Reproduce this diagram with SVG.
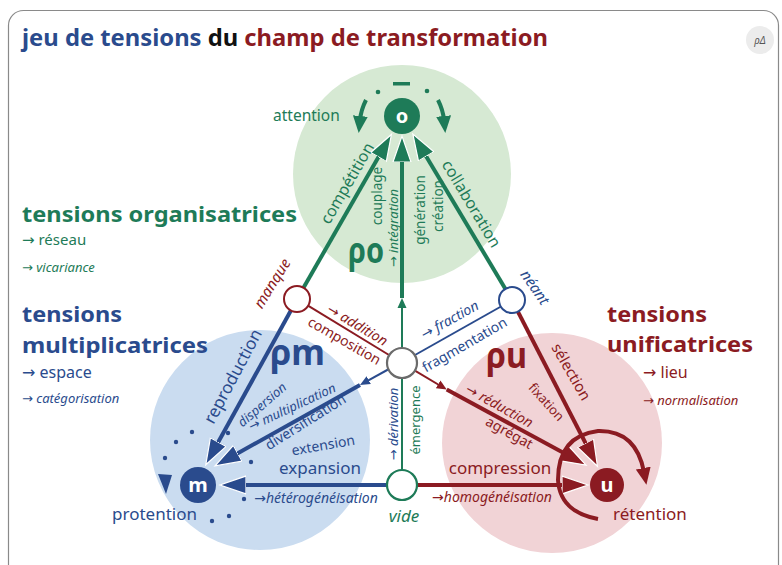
<svg xmlns="http://www.w3.org/2000/svg" width="782" height="565" viewBox="0 0 782 565">
<style>
text{font-family:"Noto Sans","Open Sans","DejaVu Sans",sans-serif}
.g{fill:#1e7b58}.n{fill:#2a4b8d}.r{fill:#8b1b22}
.i{font-style:italic}.b{font-weight:bold}
.sg{stroke:#1e7b58}.sn{stroke:#2a4b8d}.sr{stroke:#8b1b22}
.thick{stroke-width:4;fill:none}.thin{stroke-width:2;fill:none}
.hole{fill:#fff;stroke-width:2}
.node{font-size:20px;font-weight:bold;fill:#fff;text-anchor:middle}
</style>
<defs>
<marker id="bg" markerUnits="userSpaceOnUse" viewBox="0 0 28 20" markerWidth="28" markerHeight="20" refX="6" refY="10" orient="auto"><path d="M0,1 L26,10 L0,19 Z" fill="#1e7b58" stroke="#fff" stroke-width="1.2"/></marker>
<marker id="bn" markerUnits="userSpaceOnUse" viewBox="0 0 28 20" markerWidth="28" markerHeight="20" refX="6" refY="10" orient="auto"><path d="M0,1 L26,10 L0,19 Z" fill="#2a4b8d" stroke="#fff" stroke-width="1.2"/></marker>
<marker id="br" markerUnits="userSpaceOnUse" viewBox="0 0 28 20" markerWidth="28" markerHeight="20" refX="6" refY="10" orient="auto"><path d="M0,1 L26,10 L0,19 Z" fill="#8b1b22" stroke="#fff" stroke-width="1.2"/></marker>
<marker id="sg" markerUnits="userSpaceOnUse" viewBox="0 0 10 10" markerWidth="10" markerHeight="10" refX="3" refY="5" orient="auto"><path d="M0,0.5 L10,5 L0,9.5 Z" fill="#1e7b58"/></marker>
<marker id="sn" markerUnits="userSpaceOnUse" viewBox="0 0 10 10" markerWidth="10" markerHeight="10" refX="3" refY="5" orient="auto"><path d="M0,0.5 L10,5 L0,9.5 Z" fill="#2a4b8d"/></marker>
<marker id="sr" markerUnits="userSpaceOnUse" viewBox="0 0 10 10" markerWidth="10" markerHeight="10" refX="3" refY="5" orient="auto"><path d="M0,0.5 L10,5 L0,9.5 Z" fill="#8b1b22"/></marker>
<marker id="mg" markerUnits="userSpaceOnUse" viewBox="0 0 17 15" markerWidth="17" markerHeight="15" refX="4" refY="7.5" orient="auto"><path d="M0,0 L17,7.5 L0,15 Z" fill="#1e7b58"/></marker>
<marker id="mr" markerUnits="userSpaceOnUse" viewBox="0 0 17 15" markerWidth="17" markerHeight="15" refX="4" refY="7.5" orient="auto"><path d="M0,0 L17,7.5 L0,15 Z" fill="#8b1b22"/></marker>
</defs>

<rect x="8.5" y="10.5" width="770" height="600" rx="15" fill="#fff" stroke="#8a8a8a" stroke-width="1.2"/>

<g id="title">
<text x="22" y="46" font-size="24" font-weight="bold" textLength="526" lengthAdjust="spacingAndGlyphs"><tspan class="n">jeu de tensions </tspan><tspan fill="#111">du </tspan><tspan class="r">champ de transformation</tspan></text>
<circle cx="760" cy="40" r="14" fill="#ececec"/>
<text x="760" y="44" font-size="10" font-style="italic" fill="#555" text-anchor="middle">ρΔ</text>
</g>

<g id="zones">
<circle cx="402" cy="174" r="109" fill="#d6e9d3"/>
<circle cx="260" cy="440" r="110" fill="#cadcf0"/>
<circle cx="552" cy="443" r="110" fill="#f1d3d6"/>
</g>

<g id="legend">
<text x="22" y="222" font-size="21.5" class="g b" textLength="275" lengthAdjust="spacingAndGlyphs">tensions organisatrices</text>
<text x="22" y="245" font-size="15" class="g">→ réseau</text>
<text x="22" y="272" font-size="13" class="g i">→ vicariance</text>
<text x="22" y="322" font-size="21.5" class="n b" textLength="100" lengthAdjust="spacingAndGlyphs">tensions</text>
<text x="22" y="353" font-size="21.5" class="n b" textLength="186" lengthAdjust="spacingAndGlyphs">multiplicatrices</text>
<text x="22" y="378" font-size="16" class="n">→ espace</text>
<text x="22" y="403" font-size="13" class="n i">→ catégorisation</text>
<text x="607" y="322" font-size="21.5" class="r b" textLength="100" lengthAdjust="spacingAndGlyphs">tensions</text>
<text x="607" y="352" font-size="21.5" class="r b" textLength="146" lengthAdjust="spacingAndGlyphs">unificatrices</text>
<text x="643" y="378" font-size="16" class="r">→ lieu</text>
<text x="643" y="405" font-size="13" class="r i">→ normalisation</text>
</g>

<g id="connectors">
<path class="thick sg" d="M303.5,287.7 L381.5,151.8" marker-end="url(#bg)"/>
<path class="thick sg" d="M505.3,288.8 L423.1,151.2" marker-end="url(#bg)"/>
<path class="thin sg" d="M402,348 L402,305" marker-end="url(#sg)"/>
<path class="thick sg" d="M402,298 L402,156" marker-end="url(#bg)"/>
<path class="thin sg" d="M402,470 L402,378"/>
<path class="thick sn" d="M290.9,310.5 L215.4,447.3" marker-end="url(#bn)"/>
<path class="thin sn" d="M389,369 L366.1,381.6" marker-end="url(#sn)"/>
<path class="thick sn" d="M360,385 L232.5,456.2" marker-end="url(#bn)"/>
<path class="thick sn" d="M387,485 L240,485" marker-end="url(#bn)"/>
<path class="thick sr" d="M517.9,311.6 L588.3,448.5" marker-end="url(#br)"/>
<path class="thin sr" d="M414.9,370.7 L440.7,386" marker-end="url(#sr)"/>
<path class="thick sr" d="M446.7,389.6 L568.4,455.5" marker-end="url(#br)"/>
<path class="thick sr" d="M417,485 L568,485" marker-end="url(#br)"/>
<path class="thin sr" d="M308,305.7 L389,355"/>
<path class="thin sn" d="M501,306.5 L415,355"/>
<path class="thick sr" d="M598,519 Q560,512 558,480 Q558,436 598,431 Q636,430 644,472" marker-end="url(#mr)"/>
<path class="thick sg" d="M366,100 Q361,110 360,120" marker-end="url(#mg)"/>
<path class="thick sg" d="M438,100 Q443,110 444,120" marker-end="url(#mg)"/>
</g>

<g id="cycle-marks">
<circle cx="378" cy="92" r="2.3" class="g"/>
<circle cx="427" cy="91" r="2.3" class="g"/>
<rect x="393" y="82" width="17" height="3.5" class="g"/>
<g class="n">
<circle cx="192" cy="432" r="2.2"/><circle cx="176" cy="442" r="2.2"/><circle cx="165" cy="458" r="2.2"/>
<circle cx="228" cy="433" r="2.2"/><circle cx="251" cy="462" r="2.2"/><circle cx="244" cy="499" r="2.2"/>
<circle cx="212" cy="521" r="2.2"/><circle cx="229" cy="516" r="2.2"/>
<polygon points="158,474 172,475 166,494"/>
</g>
</g>

<g id="manque"><circle cx="297" cy="299" r="13" class="hole sr"/>
<text class="r i" font-size="15" text-anchor="middle" transform="translate(276.5,286) rotate(-58)">manque</text></g>
<g id="neant"><circle cx="512" cy="300" r="13" class="hole sn"/>
<text class="n i" font-size="15" text-anchor="middle" transform="translate(530.7,290.3) rotate(55)">néant</text></g>
<g id="centre"><circle cx="402" cy="363" r="15" fill="#fff" stroke="#6b6b6b" stroke-width="2.2"/></g>
<g id="vide"><circle cx="402" cy="485" r="15" fill="#fff" stroke="#1e7b58" stroke-width="2.2"/>
<text x="404" y="522" font-size="17" class="g i" text-anchor="middle">vide</text></g>

<g id="o"><circle cx="402" cy="116" r="18" fill="#1e7b58"/><text x="402" y="123" class="node">o</text>
<text x="273" y="121" font-size="15.5" class="g">attention</text></g>
<g id="m"><circle cx="198" cy="485" r="18" fill="#2a4b8d"/><text x="198" y="492" class="node">m</text>
<text x="112" y="520" font-size="17" class="n">protention</text></g>
<g id="u"><circle cx="607" cy="485" r="17" fill="#8b1b22"/><text x="607" y="492" class="node">u</text>
<text x="613" y="520" font-size="17" class="r">rétention</text></g>

<g id="labels-o">
<text x="348" y="263" font-size="36" class="g b" textLength="36" lengthAdjust="spacingAndGlyphs">ρo</text>
<text class="g" font-size="16" text-anchor="middle" transform="translate(352,186) rotate(-60)">compétition</text>
<text class="g" font-size="16" text-anchor="middle" transform="translate(466.7,206.6) rotate(59)">collaboration</text>
<text class="g" font-size="13.5" text-anchor="middle" transform="translate(382,196) rotate(-90)">couplage</text>
<text class="g i" font-size="13" text-anchor="middle" transform="translate(397.5,228) rotate(-90)">→ intégration</text>
<text class="g" font-size="13.5" text-anchor="middle" transform="translate(425,210) rotate(-90)">génération</text>
<text class="g" font-size="13.5" text-anchor="middle" transform="translate(443,206) rotate(-90)">création</text>
</g>

<g id="labels-m">
<text x="270" y="365" font-size="36" class="n b" textLength="55" lengthAdjust="spacingAndGlyphs">ρm</text>
<text class="n" font-size="17" text-anchor="middle" transform="translate(238,379) rotate(-62)">reproduction</text>
<text class="n i" font-size="13" text-anchor="middle" transform="translate(265,408) rotate(-41)">dispersion</text>
<text class="n i" font-size="13" text-anchor="middle" transform="translate(294,411) rotate(-25)">→ multiplication</text>
<text class="n" font-size="14" text-anchor="middle" transform="translate(308,426) rotate(-32)">diversification</text>
<text class="n" font-size="14" text-anchor="middle" transform="translate(324,450) rotate(-10)">extension</text>
<text x="320" y="474" font-size="17" class="n" text-anchor="middle">expansion</text>
<text x="316" y="503" font-size="14" class="n i" text-anchor="middle">→hétérogénéisation</text>
<text class="n i" font-size="14" text-anchor="middle" transform="translate(452,324) rotate(-29)">→ fraction</text>
<text class="n" font-size="14" text-anchor="middle" transform="translate(467,349) rotate(-30)">fragmentation</text>
<text class="n i" font-size="13" text-anchor="middle" transform="translate(398,424) rotate(-90)">→ dérivation</text>
<text class="g" font-size="13" text-anchor="middle" transform="translate(420,420) rotate(-90)">émergence</text>
</g>

<g id="labels-u">
<text x="486" y="368" font-size="36" class="r b" textLength="41" lengthAdjust="spacingAndGlyphs">ρu</text>
<text class="r i" font-size="14" text-anchor="middle" transform="translate(355,329) rotate(31)">→ addition</text>
<text class="r" font-size="14" text-anchor="middle" transform="translate(342,345) rotate(30)">composition</text>
<text class="r" font-size="15" text-anchor="middle" transform="translate(566.7,374.5) rotate(60)">sélection</text>
<text class="r" font-size="13" text-anchor="middle" transform="translate(543,405) rotate(48)">fixation</text>
<text class="r i" font-size="14" text-anchor="middle" transform="translate(497,410) rotate(29)">→ réduction</text>
<text class="r" font-size="14" text-anchor="middle" transform="translate(507,437) rotate(29)">agrégat</text>
<text x="500" y="474" font-size="17" class="r" text-anchor="middle">compression</text>
<text x="492" y="502" font-size="14" class="r i" text-anchor="middle">→homogénéisation</text>
</g>
</svg>
